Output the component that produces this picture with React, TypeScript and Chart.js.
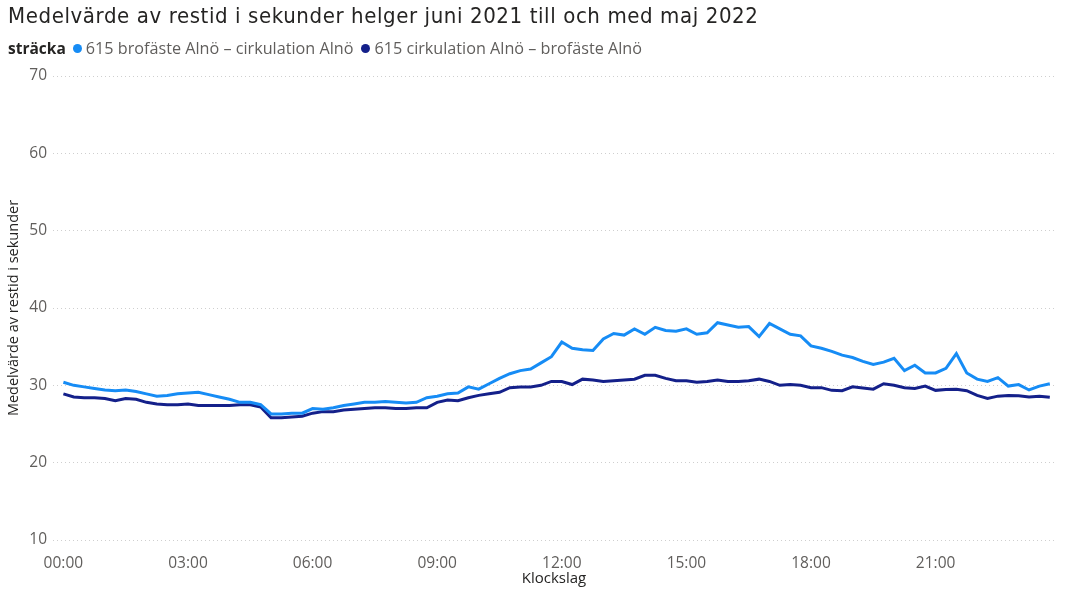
import React, { useEffect, useRef } from "react";
import { Chart, registerables } from "chart.js";

Chart.register(...registerables);

const chartTitle = "Medelvärde av restid i sekunder helger juni 2021 till och med maj 2022";
const legendTitle = "sträcka";
const seriesNames = [
  "615 brofäste Alnö – cirkulation Alnö",
  "615 cirkulation Alnö – brofäste Alnö",
];
const seriesColors = ["#168CF5", "#14208A"];

const timeLabels: string[] = [];
for (let h = 0; h < 24; h++) {
  for (let m = 0; m < 60; m += 15) {
    timeLabels.push(String(h).padStart(2, "0") + ":" + String(m).padStart(2, "0"));
  }
}

const brofasteToCirkulation = [
  30.4, 30.0, 29.8, 29.6, 29.4, 29.3, 29.4, 29.2, 28.9, 28.6, 28.7, 28.9,
  29.0, 29.1, 28.8, 28.5, 28.2, 27.8, 27.8, 27.5, 26.3, 26.3, 26.4, 26.4,
  27.0, 26.9, 27.1, 27.4, 27.6, 27.8, 27.8, 27.9, 27.8, 27.7, 27.8, 28.4,
  28.6, 28.9, 29.0, 29.8, 29.5, 30.2, 30.9, 31.5, 31.9, 32.1, 32.9, 33.7,
  35.6, 34.8, 34.6, 34.5, 36.0, 36.7, 36.5, 37.3, 36.6, 37.5, 37.1, 37.0,
  37.3, 36.6, 36.8, 38.1, 37.8, 37.5, 37.6, 36.3, 38.0, 37.3, 36.6, 36.4,
  35.1, 34.8, 34.4, 33.9, 33.6, 33.1, 32.7, 33.0, 33.5, 31.9, 32.6, 31.6,
  31.6, 32.2, 34.1, 31.6, 30.8, 30.5, 31.0, 29.9, 30.1, 29.4, 29.9, 30.2,
];

const cirkulationToBrofaste = [
  28.9, 28.5, 28.4, 28.4, 28.3, 28.0, 28.3, 28.2, 27.8, 27.6, 27.5, 27.5,
  27.6, 27.4, 27.4, 27.4, 27.4, 27.5, 27.5, 27.2, 25.8, 25.8, 25.9, 26.0,
  26.4, 26.6, 26.6, 26.8, 26.9, 27.0, 27.1, 27.1, 27.0, 27.0, 27.1, 27.1,
  27.8, 28.1, 28.0, 28.4, 28.7, 28.9, 29.1, 29.7, 29.8, 29.8, 30.0, 30.5,
  30.5, 30.1, 30.8, 30.7, 30.5, 30.6, 30.7, 30.8, 31.3, 31.3, 30.9, 30.6,
  30.6, 30.4, 30.5, 30.7, 30.5, 30.5, 30.6, 30.8, 30.5, 30.0, 30.1, 30.0,
  29.7, 29.7, 29.35, 29.3, 29.8, 29.65, 29.5, 30.2, 30.0, 29.7, 29.6, 29.9,
  29.35, 29.45, 29.5, 29.3, 28.7, 28.3, 28.6, 28.7, 28.65, 28.5, 28.6, 28.45,
];

const xTickIndices = [0, 12, 24, 36, 48, 60, 72, 84];
const yTicks = [10, 20, 30, 40, 50, 60, 70];
const xAxisTitle = "Klockslag";
const yAxisTitle = "Medelvärde av restid i sekunder";

const toPoints = (arr: number[]) => arr.map((v, i) => ({ x: i, y: v }));

export default function App() {
  const canvasRef = useRef<HTMLCanvasElement | null>(null);

  useEffect(() => {
    if (!canvasRef.current) return;
    const chart = new Chart(canvasRef.current, {
      type: "line",
      data: {
        datasets: [
          {
            label: seriesNames[0],
            data: toPoints(brofasteToCirkulation),
            borderColor: seriesColors[0],
            backgroundColor: seriesColors[0],
            borderWidth: 3,
            pointRadius: 0,
            tension: 0,
          },
          {
            label: seriesNames[1],
            data: toPoints(cirkulationToBrofaste),
            borderColor: seriesColors[1],
            backgroundColor: seriesColors[1],
            borderWidth: 3,
            pointRadius: 0,
            tension: 0,
          },
        ],
      },
      options: {
        animation: false,
        responsive: false,
        maintainAspectRatio: false,
        layout: { padding: { top: 76, right: 22, left: 0, bottom: 0 } },
        plugins: {
          legend: { display: false },
          title: { display: false },
          tooltip: { enabled: false },
        },
        scales: {
          x: {
            type: "linear",
            min: -1,
            max: 95.5,
            grid: { display: false },
            border: { display: false },
            afterBuildTicks: (scale: any) => {
              scale.ticks = xTickIndices.map((v) => ({ value: v }));
            },
            afterFit: (scale: any) => {
              scale.height = 59;
            },
            ticks: {
              autoSkip: false,
              maxRotation: 0,
              padding: 6,
              color: "#605E5C",
              font: { family: "'Open Sans', sans-serif", size: 15.5 },
              callback: (v: any) => timeLabels[Number(v)] ?? "",
            },
            title: {
              display: true,
              text: xAxisTitle,
              color: "#252423",
              font: { family: "'Open Sans', sans-serif", size: 15 },
              padding: { top: 0, bottom: 11 },
            },
          },
          y: {
            type: "linear",
            min: 10,
            max: 70,
            afterBuildTicks: (scale: any) => {
              scale.ticks = yTicks.map((v) => ({ value: v }));
            },
            afterFit: (scale: any) => {
              scale.width = 53;
            },
            grid: {
              display: true,
              color: "#cfcfcf",
              lineWidth: 1,
              drawTicks: false,
            },
            border: { display: false, dash: [1, 3] },
            ticks: {
              padding: 6,
              color: "#605E5C",
              font: { family: "'Open Sans', sans-serif", size: 15.5 },
            },
            title: {
              display: true,
              text: yAxisTitle,
              color: "#252423",
              font: { family: "'Open Sans', sans-serif", size: 14.5 },
              padding: { top: 5, bottom: 0 },
            },
          },
        },
      },
    });
    return () => chart.destroy();
  }, []);

  return (
    <div
      style={{
        position: "absolute",
        left: 0,
        top: 0,
        width: 1077,
        height: 599,
        background: "#ffffff",
        overflow: "hidden",
      }}
    >
      <canvas
        ref={canvasRef}
        width={1077}
        height={599}
        style={{ position: "absolute", left: 0, top: 0, width: 1077, height: 599 }}
      />
      <div
        style={{
          position: "absolute",
          left: 8,
          top: 3,
          fontFamily: "'DejaVu Sans Condensed', 'DejaVu Sans', sans-serif",
          fontSize: 22,
          letterSpacing: "0.6px",
          lineHeight: "26px",
          color: "#252423",
          whiteSpace: "nowrap",
        }}
      >
        {chartTitle}
      </div>
      <div
        style={{
          position: "absolute",
          left: 8,
          top: 38,
          fontFamily: "'Open Sans', sans-serif",
          fontSize: 16.2,
          lineHeight: "20px",
          color: "#605E5C",
          whiteSpace: "nowrap",
          display: "flex",
          alignItems: "center",
        }}
      >
        <span style={{ fontWeight: 700, fontSize: 15.5, color: "#252423", marginRight: 7 }}>{legendTitle}</span>
        {seriesNames.map((name, i) => (
          <span key={name} style={{ display: "inline-flex", alignItems: "center", marginRight: 8 }}>
            <span
              style={{
                display: "inline-block",
                width: 9,
                height: 9,
                borderRadius: "50%",
                background: seriesColors[i],
                marginRight: 4,
              }}
            />
            {name}
          </span>
        ))}
      </div>
    </div>
  );
}
